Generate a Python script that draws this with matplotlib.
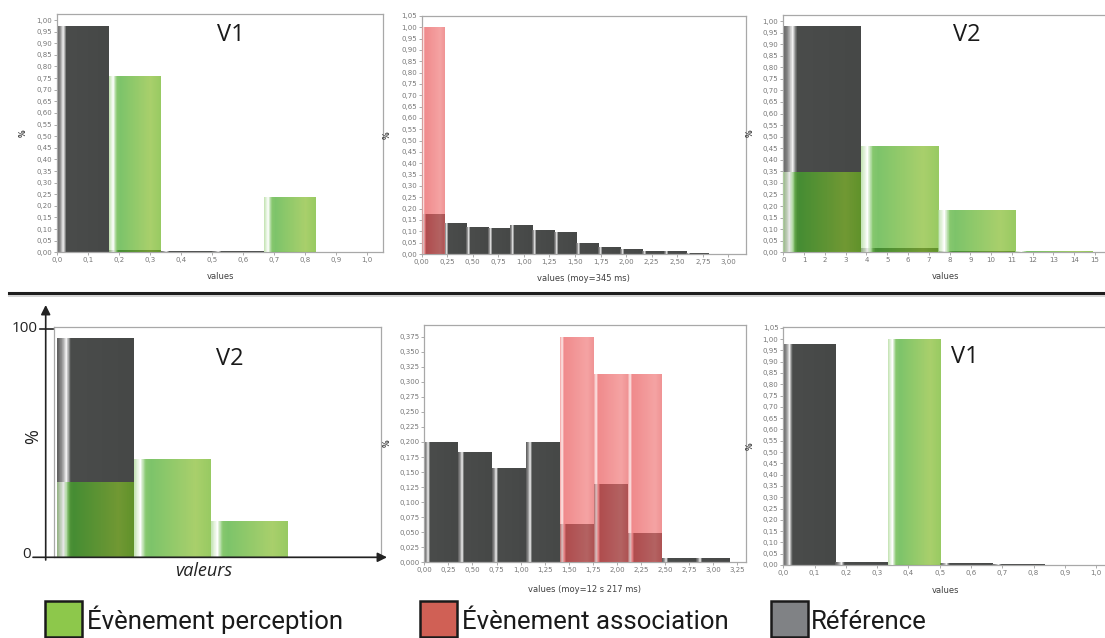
import numpy as np
import matplotlib
matplotlib.use("Agg")
import matplotlib.pyplot as plt
from matplotlib.colors import to_rgb
from matplotlib.ticker import FuncFormatter
from matplotlib.patches import Rectangle, FancyArrowPatch
from matplotlib.lines import Line2D

# ------------------------------------------------------------------ data
# top-left panel (V1)
tl_starts = [0.0, 0.1667, 0.3333, 0.5, 0.6667]
tl_width = 0.1667
tl_reference = [0.975, 0.010, 0.005, 0.007, 0.0]
tl_perception = [0.0, 0.76, 0.0, 0.0, 0.24]

# top-middle panel (association, moy=345 ms)
tm_starts = [0.0, 0.216, 0.432, 0.647, 0.863, 1.079, 1.295, 1.511, 1.726,
             1.942, 2.158, 2.374, 2.589]
tm_width = 0.2158
tm_reference = [0.178, 0.137, 0.119, 0.115, 0.128, 0.107, 0.095, 0.047,
                0.031, 0.021, 0.012, 0.013, 0.004]
tm_association = [1.0, 0, 0, 0, 0, 0, 0, 0, 0, 0, 0, 0, 0]

# top-right panel (V2)
tr_starts = [0.0, 3.72, 7.44, 11.16]
tr_width = 3.72
tr_reference = [0.977, 0.017, 0.006, 0.0]
tr_perception = [0.349, 0.458, 0.184, 0.006]

# bottom-left schematic (V2)
bl_starts = [0, 1, 2]
bl_width = 1
bl_reference = [0.96, 0.0, 0.0]
bl_perception = [0.33, 0.43, 0.16]

# bottom-middle panel (association, moy=12 s 217 ms)
bm_starts = [0.0, 0.3525, 0.705, 1.0575, 1.41, 1.7625, 2.115, 2.4675, 2.82]
bm_width = 0.3525
bm_reference = [0.1994, 0.184, 0.156, 0.200, 0.0637, 0.130, 0.049, 0.0066, 0.0078]
bm_association = [0, 0, 0, 0, 0.375, 0.313, 0.3125, 0, 0]

# bottom-right panel (V1)
br_starts = [0.0, 0.1667, 0.3333, 0.5, 0.6667]
br_width = 0.1667
br_reference = [0.976, 0.012, 0.0, 0.007, 0.003]
br_perception = [0.0, 0.0, 1.0, 0.0, 0.0]

legend_labels = ["Évènement perception", "Évènement association", "Référence"]
legend_colors = ["#8dc84b", "#d06055", "#808285"]

# ------------------------------------------------------------------ style
W, H = 1105, 638
fig = plt.figure(figsize=(W / 100, H / 100), dpi=100)

DARK = [(0.0, "#5c5c5c"), (0.06, "#8e8e8e"), (0.12, "#f2f2f2"),
        (0.18, "#4a4c4b"), (1.0, "#464847")]
GREEN = [(0.0, "#c4e4b4"), (0.08, "#ffffff"), (0.15, "#86c86e"),
         (0.22, "#7dc46a"), (0.8, "#a9d06b"), (1.0, "#98ca62")]
RED = [(0.0, "#f3a6a6"), (0.06, "#fde9e9"), (0.12, "#f08a8c"),
       (0.8, "#f5a3a3"), (1.0, "#f09394")]


def grad_img(stops, alpha, n=200):
    pos = np.array([s[0] for s in stops])
    cols = np.array([to_rgb(s[1]) for s in stops])
    t = np.linspace(0, 1, n)
    rgb = np.stack([np.interp(t, pos, cols[:, k]) for k in range(3)], axis=-1)
    if alpha < 1:
        rgb = np.clip((rgb - (1 - alpha)) / alpha, 0, 1)
    img = np.concatenate([rgb, np.full((n, 1), alpha)], axis=1)
    return img[np.newaxis, :, :]


def draw_bars(ax, starts, width, heights, stops, alpha, z):
    bars = ax.bar(starts, heights, width=width, align="edge",
                  color="none", edgecolor="none", zorder=z)
    img = grad_img(stops, alpha)
    for p, h in zip(bars.patches, heights):
        if h <= 0:
            continue
        x0, w = p.get_x(), p.get_width()
        im = ax.imshow(img, extent=(x0, x0 + w, 0, h), aspect="auto",
                       interpolation="nearest", zorder=z)
        im.set_clip_path(p)


def add_axes_px(left, top, right, bottom):
    return fig.add_axes([left / W, 1 - bottom / H, (right - left) / W,
                         (bottom - top) / H])


def fmt(d):
    return FuncFormatter(lambda v, pos: f"{v:.{d}f}".replace(".", ","))


def style_chart(ax, box, xlim, ylim, xticks, xdec, yticks, ydec, xlabel,
                ylab_x, xlab_y):
    left, top, right, bottom = box
    ax.set_xlim(*xlim)
    ax.set_ylim(*ylim)
    ax.set_xticks(xticks)
    ax.set_yticks(yticks)
    ax.xaxis.set_major_formatter(fmt(xdec))
    ax.yaxis.set_major_formatter(fmt(ydec))
    ax.tick_params(labelsize=5, colors="#8a8a8a", labelcolor="#777777",
                   length=2, width=0.5, pad=1.5)
    for s in ax.spines.values():
        s.set_color("#a8a8a8")
        s.set_linewidth(0.9)
    ax.set_xlabel(xlabel, fontsize=6, color="#404040")
    ax.xaxis.set_label_coords(0.5, -(xlab_y - bottom) / (bottom - top))
    ax.set_ylabel("%", fontsize=5.5, color="#404040", fontweight="bold")
    ax.yaxis.set_label_coords((ylab_x - left) / (right - left), 0.5)


def vtext(x, y, s, **kw):
    fig.text(x / W, 1 - y / H, s, **kw)


big = dict(fontsize=17, family=["Open Sans", "DejaVu Sans"], color="#1a1a1a",
           ha="center", va="center")

# ---- top-left
box = (57.3, 14, 383, 252.3)
ax = add_axes_px(*box)
draw_bars(ax, tl_starts, tl_width, tl_reference, DARK, 1.0, 2)
draw_bars(ax, tl_starts, tl_width, tl_perception, GREEN, 0.7, 3)
style_chart(ax, box, (0, 1.053), (0, 1.026),
            [0, 0.1, 0.2, 0.3, 0.4, 0.5, 0.6, 0.7, 0.8, 0.9, 1.0], 1,
            np.arange(0, 1.001, 0.05), 2, "values", 28, 272)
vtext(231, 35, "V1", **big)

# ---- top-middle
box = (421.7, 15.7, 746, 254)
ax = add_axes_px(*box)
draw_bars(ax, tm_starts, tm_width, tm_reference, DARK, 1.0, 2)
draw_bars(ax, tm_starts, tm_width, tm_association, RED, 0.65, 3)
style_chart(ax, box, (0, 3.173), (0, 1.051),
            np.arange(0, 3.001, 0.25), 2,
            np.arange(0, 1.051, 0.05), 2, "values (moy=345 ms)", 392, 274)

# ---- top-right
box = (783.3, 15, 1107, 252.3)
ax = add_axes_px(*box)
draw_bars(ax, tr_starts, tr_width, tr_reference, DARK, 1.0, 2)
draw_bars(ax, tr_starts, tr_width, tr_perception, GREEN, 0.7, 3)
style_chart(ax, box, (0, 15.58), (0, 1.026),
            np.arange(0, 15.5, 1), 0,
            np.arange(0, 1.001, 0.05), 2, "values", 755, 272)
vtext(967, 35, "V2", **big)

# ---- separator
fig.add_artist(Line2D([9 / W, 1], [1 - 293.3 / H] * 2, lw=2.2, color="#1e1e1e"))
fig.add_artist(Line2D([9 / W, 1], [1 - 296.3 / H] * 2, lw=1.4, color="#d4d4d4"))

# ---- bottom-left schematic
box = (54, 327, 381, 557.3)
ax = add_axes_px(*box)
draw_bars(ax, bl_starts, bl_width, bl_reference, DARK, 1.0, 2)
draw_bars(ax, bl_starts, bl_width, bl_perception, GREEN, 0.7, 3)
ax.set_xlim(-0.043, 4.22)
ax.set_ylim(0, 1.009)
ax.set_xticks([])
ax.set_yticks([])
for s in ax.spines.values():
    s.set_color("#a8a8a8")
    s.set_linewidth(0.9)
arrow_kw = dict(arrowstyle="-|>", mutation_scale=14, lw=1.2, color="#222222",
                transform=fig.transFigure, shrinkA=0, shrinkB=0)
fig.add_artist(FancyArrowPatch((45.7 / W, 1 - 560 / H), (45.7 / W, 1 - 305 / H),
                               **arrow_kw))
fig.add_artist(FancyArrowPatch((33 / W, 1 - 557.3 / H), (387 / W, 1 - 557.3 / H),
                               **arrow_kw))
fig.add_artist(Line2D([40 / W, 53 / W], [1 - 329 / H] * 2, lw=1.2, color="#222222"))
lab_kw = dict(fontsize=11, family=["Open Sans", "DejaVu Sans"], color="#222222")
vtext(38, 329, "100", ha="right", va="center", **lab_kw)
vtext(31, 554, "0", ha="right", va="center", **lab_kw)
vtext(33, 437, "%", rotation=90, ha="center", va="center",
      fontsize=13, family=["Open Sans", "DejaVu Sans"], color="#222222")
vtext(204, 571, "valeurs", ha="center", va="center", style="italic",
      fontsize=13, family=["Open Sans", "DejaVu Sans"], color="#222222")
vtext(230, 359, "V2", **big)

# ---- bottom-middle
box = (424.3, 325, 745.7, 562.3)
ax = add_axes_px(*box)
draw_bars(ax, bm_starts, bm_width, bm_reference, DARK, 1.0, 2)
draw_bars(ax, bm_starts, bm_width, bm_association, RED, 0.65, 3)
style_chart(ax, box, (0, 3.337), (0, 0.3945),
            np.arange(0, 3.251, 0.25), 2,
            np.arange(0, 0.3751, 0.025), 3, "values (moy=12 s 217 ms)", 392, 585)

# ---- bottom-right
box = (783.3, 327.3, 1107, 565)
ax = add_axes_px(*box)
draw_bars(ax, br_starts, br_width, br_reference, DARK, 1.0, 2)
draw_bars(ax, br_starts, br_width, br_perception, GREEN, 0.7, 3)
style_chart(ax, box, (0, 1.035), (0, 1.052),
            [0, 0.1, 0.2, 0.3, 0.4, 0.5, 0.6, 0.7, 0.8, 0.9, 1.0], 1,
            np.arange(0, 1.051, 0.05), 2, "values", 755, 586)
vtext(965, 357, "V1", **big)

# ---- legend
leg_sq_x = [45, 420, 771]
leg_txt_x = [87, 462, 811]
for sx, tx, lab, col in zip(leg_sq_x, leg_txt_x, legend_labels, legend_colors):
    fig.add_artist(Rectangle((sx / W, 1 - 637 / H), 37 / W, 36 / H,
                             transform=fig.transFigure, fc=col, ec="#1a1a1a",
                             lw=1.8))
    vtext(tx, 629, lab, ha="left", va="baseline", fontsize=18.5,
          family=["Roboto", "DejaVu Sans"], color="#1a1a1a")

fig.savefig("out.png", dpi=100)
